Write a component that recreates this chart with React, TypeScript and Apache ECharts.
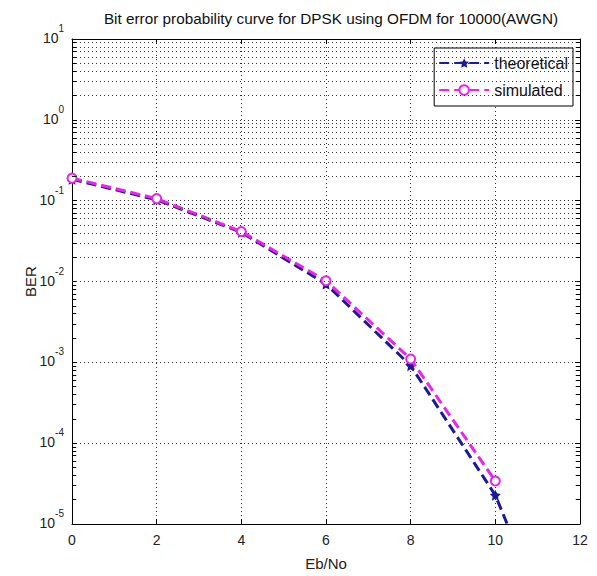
import React, { useEffect, useRef } from "react";
import * as echarts from "echarts";

// Data
const EBNO_THEORETICAL = [0, 2, 4, 6, 8, 10, 12];
const BER_THEORETICAL = [0.184, 0.1025, 0.0406, 0.0093, 0.00091, 2.27e-5, 6.5e-8];
const EBNO_SIMULATED = [0, 2, 4, 6, 8, 10];
const BER_SIMULATED = [0.19, 0.106, 0.0415, 0.0102, 0.0011, 3.4e-5];

const X_MIN = 0;
const X_MAX = 12;
const X_INTERVAL = 2;
const Y_MIN = 1e-5;
const Y_MAX = 10;
const MINOR_DECADES = [-5, -4, -3, -2, -1, 0];
const MINOR_MULTIPLIERS = [2, 3, 4, 5, 6, 7, 8, 9];

const TITLE = "Bit error probability curve for DPSK using OFDM for 10000(AWGN)";
const FONT = "'Liberation Sans', Arial, Helvetica, sans-serif";
const STAR =
  "path://M0,-10 L2.9,-4 9.5,-3.1 4.7,1.5 5.9,8.1 0,5 -5.9,8.1 -4.7,1.5 -9.5,-3.1 -2.9,-4Z";

export default function App() {
  const ref = useRef<HTMLDivElement>(null);
  useEffect(() => {
    if (!ref.current) return;
    const chart = echarts.init(ref.current, undefined, { renderer: "svg" });

    const minorValues: number[] = [];
    MINOR_DECADES.forEach((e) =>
      MINOR_MULTIPLIERS.forEach((k) => minorValues.push(k * Math.pow(10, e)))
    );
    const tickLen = 0.1;
    const minorTickData: any[] = [];
    minorValues.forEach((v) => {
      minorTickData.push([{ coord: [X_MIN, v] }, { coord: [X_MIN + tickLen, v] }]);
      minorTickData.push([{ coord: [X_MAX - tickLen, v] }, { coord: [X_MAX, v] }]);
    });

    const dotted = { color: "#333", width: 1, type: [1, 3] as any };
    const axisLineStyle = { color: "#000", width: 1 };

    const yLabel = {
      fontFamily: FONT,
      color: "#222",
      margin: 8,
      padding: [0, 0, 9.5, 0],
      formatter: (v: number) => {
        const e = Math.round(Math.log10(v));
        return "{b|10}{s|" + e + "}";
      },
      rich: {
        b: { fontSize: 14, lineHeight: 21.5, verticalAlign: "bottom", fontFamily: FONT, color: "#222" },
        s: { fontSize: 10, lineHeight: 12, verticalAlign: "top", fontFamily: FONT, color: "#222" },
      },
    };

    chart.setOption({
      animation: false,
      backgroundColor: "#fff",
      textStyle: { fontFamily: FONT },
      graphic: [
        {
          type: "text",
          x: 331,
          y: 18,
          style: {
            text: TITLE,
            fontSize: 15.3,
            fontFamily: FONT,
            fill: "#111",
            textAlign: "center",
            textVerticalAlign: "middle",
          },
        },
      ],
      grid: { left: 72, right: 17, top: 39, bottom: 51, containLabel: false },
      legend: {
        data: ["theoretical", "simulated"],
        orient: "vertical",
        right: 24,
        top: 48,
        padding: [7, 5, 8, 4],
        itemGap: 11,
        itemWidth: 50,
        itemHeight: 12,
        backgroundColor: "#fff",
        borderColor: "#000",
        borderWidth: 1,
        borderRadius: 0,
        textStyle: { fontSize: 16, color: "#111", fontFamily: FONT },
      },
      xAxis: [
        {
          type: "value",
          min: X_MIN,
          max: X_MAX,
          interval: X_INTERVAL,
          position: "bottom",
          name: "Eb/No",
          nameLocation: "middle",
          nameGap: 32,
          nameMoveOverlap: false,
          nameTextStyle: { fontSize: 15, color: "#222", fontFamily: FONT },
          axisLine: { show: true, onZero: false, lineStyle: axisLineStyle },
          axisTick: { show: true, inside: true, length: 5, lineStyle: axisLineStyle },
          axisLabel: { fontSize: 14, color: "#222", margin: 9, fontFamily: FONT },
          splitLine: { show: true, lineStyle: dotted },
        },
        {
          type: "value",
          min: X_MIN,
          max: X_MAX,
          interval: X_INTERVAL,
          position: "top",
          axisLine: { show: true, onZero: false, lineStyle: axisLineStyle },
          axisTick: { show: true, inside: true, length: 5, lineStyle: axisLineStyle },
          axisLabel: { show: false },
          splitLine: { show: false },
        },
      ],
      yAxis: [
        {
          type: "log",
          logBase: 10,
          min: Y_MIN,
          max: Y_MAX,
          splitNumber: 6,
          position: "left",
          name: "BER",
          nameLocation: "middle",
          nameGap: 34,
          nameMoveOverlap: false,
          nameTextStyle: { fontSize: 15, color: "#222", fontFamily: FONT },
          axisLine: { show: true, onZero: false, lineStyle: axisLineStyle },
          axisTick: { show: true, inside: true, length: 5, lineStyle: axisLineStyle },
          axisLabel: yLabel,
          splitLine: { show: true, lineStyle: dotted },
        },
        {
          type: "log",
          logBase: 10,
          min: Y_MIN,
          max: Y_MAX,
          splitNumber: 6,
          position: "right",
          axisLine: { show: true, onZero: false, lineStyle: axisLineStyle },
          axisTick: { show: true, inside: true, length: 5, lineStyle: axisLineStyle },
          axisLabel: { show: false },
          splitLine: { show: false },
        },
      ],
      series: [
        {
          name: "minorGrid",
          type: "line",
          data: [],
          silent: true,
          markLine: {
            silent: true,
            symbol: ["none", "none"],
            label: { show: false },
            lineStyle: dotted,
            emphasis: { disabled: true },
            data: minorValues.map((v) => ({ yAxis: v })),
          },
        },
        {
          name: "minorTicks",
          type: "line",
          data: [],
          silent: true,
          markLine: {
            silent: true,
            symbol: ["none", "none"],
            label: { show: false },
            lineStyle: { color: "#000", width: 1, type: "solid" },
            emphasis: { disabled: true },
            data: minorTickData,
          },
        },
        {
          name: "theoretical",
          type: "line",
          data: EBNO_THEORETICAL.map((x, i) => [x, BER_THEORETICAL[i]]),
          clip: true,
          color: "#1a1a96",
          symbol: STAR,
          symbolSize: 11,
          showAllSymbol: true,
          lineStyle: { color: "#1a1a96", width: 3, type: [10, 5] },
          itemStyle: { color: "#1a1a96" },
          z: 3,
        },
        {
          name: "simulated",
          type: "line",
          data: EBNO_SIMULATED.map((x, i) => [x, BER_SIMULATED[i]]),
          clip: true,
          color: "#ee22ee",
          symbol: "emptyCircle",
          symbolSize: 9,
          showAllSymbol: true,
          lineStyle: { color: "#ee22ee", width: 3, type: [10, 5] },
          itemStyle: { color: "#ee22ee", borderColor: "#ee22ee", borderWidth: 2 },
          z: 4,
        },
      ],
    });
    return () => chart.dispose();
  }, []);

  return (
    <div
      ref={ref}
      style={{ position: "fixed", left: 0, top: 0, width: 597, height: 576, background: "#fff" }}
    />
  );
}
